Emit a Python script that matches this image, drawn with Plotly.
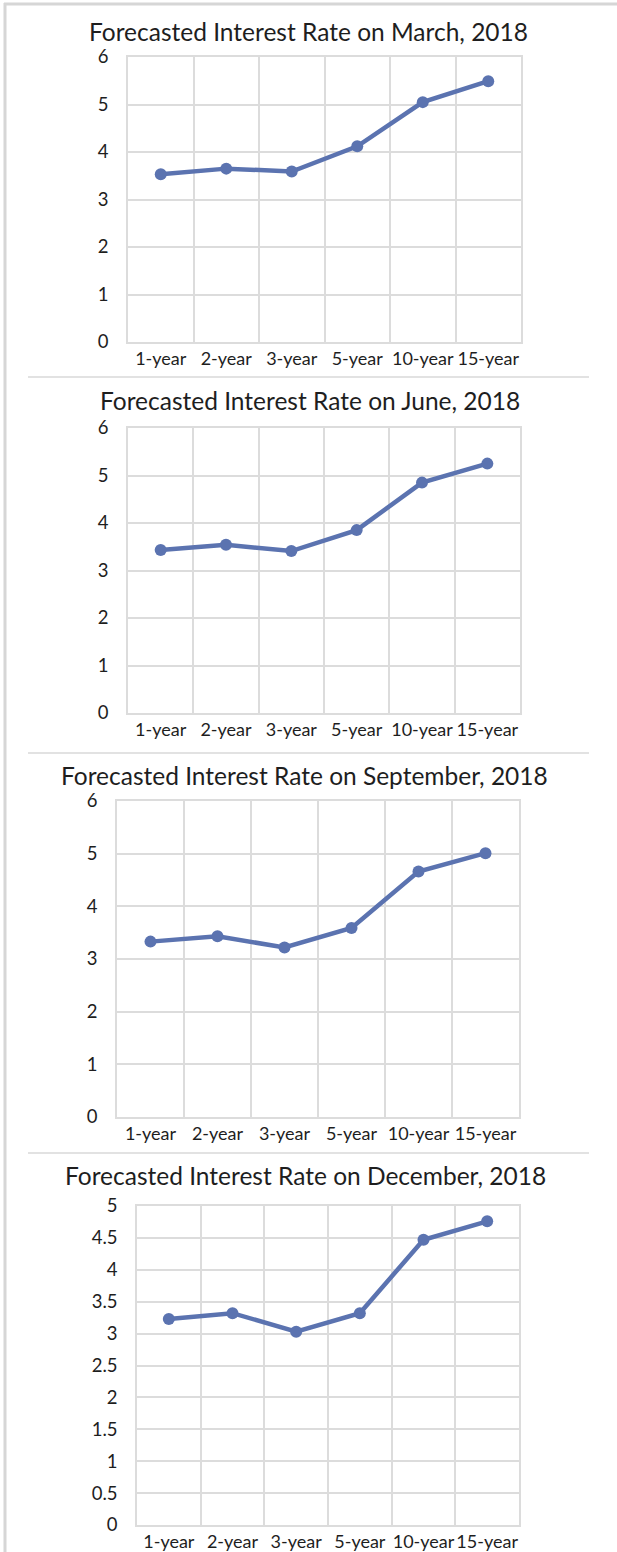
import plotly.graph_objects as go

categories = ["1-year", "2-year", "3-year", "5-year", "10-year", "15-year"]
titles = [
    "Forecasted Interest Rate on March, 2018",
    "Forecasted Interest Rate on June, 2018",
    "Forecasted Interest Rate on September, 2018",
    "Forecasted Interest Rate on December, 2018",
]
march_rates = [3.53, 3.65, 3.59, 4.12, 5.05, 5.49]
june_rates = [3.43, 3.54, 3.41, 3.85, 4.85, 5.25]
september_rates = [3.33, 3.43, 3.22, 3.59, 4.66, 5.01]
december_rates = [3.23, 3.32, 3.03, 3.32, 4.47, 4.76]
series = [march_rates, june_rates, september_rates, december_rates]
y_max = [6, 6, 6, 5]
y_dtick = [1, 1, 1, 0.5]

W, H = 617, 1552
# plot areas in pixels: (left, right, top, bottom)
boxes = [(128, 521, 57, 342), (128, 520, 428, 713), (117, 519, 801, 1117), (137, 519, 1206, 1525)]
title_pos = [(308, 31), (310, 401), (304, 775), (305, 1175)]

LINE = "#5b73b0"
GRID = "#dcdcdc"
TXT = "#1e1e1e"
FONT = "Lato"

fig = go.Figure()
layout = dict(
    width=W, height=H, margin=dict(l=0, r=0, t=0, b=0),
    paper_bgcolor="white", plot_bgcolor="white", showlegend=False,
    font=dict(family=FONT, color=TXT),
)
annotations = []
for i, (vals, (l, r, t, b)) in enumerate(zip(series, boxes)):
    n = "" if i == 0 else str(i + 1)
    fig.add_trace(go.Scatter(
        x=categories, y=vals, mode="lines+markers",
        line=dict(color=LINE, width=4.5), marker=dict(color=LINE, size=12),
        xaxis="x" + n, yaxis="y" + n, cliponaxis=False,
    ))
    layout["xaxis" + n] = dict(
        domain=[l / W, r / W], anchor="y" + n, type="category",
        range=[-0.5, 5.5], tickson="boundaries", showgrid=True, gridcolor=GRID, gridwidth=1.5,
        showline=True, mirror=True, linecolor=GRID, linewidth=1.5, ticks="",
        tickangle=0, automargin=False,
        tickfont=dict(family=FONT, size=18, color=TXT), ticklabelstandoff=0,
        fixedrange=True,
    )
    layout["yaxis" + n] = dict(
        domain=[1 - b / H, 1 - t / H], anchor="x" + n, range=[0, y_max[i]],
        dtick=y_dtick[i], tick0=0, showgrid=True, gridcolor=GRID, gridwidth=1.5,
        zeroline=False, showline=True, mirror=True, linecolor=GRID, linewidth=1.5, ticks="",
        automargin=False,
        tickfont=dict(family=FONT, size=18.5, color=TXT), ticklabelstandoff=14,
        fixedrange=True,
    )
    tx, ty = title_pos[i]
    annotations.append(dict(
        text=titles[i], x=tx / W, y=1 - ty / H, xref="paper", yref="paper",
        xanchor="center", yanchor="middle", showarrow=False,
        font=dict(family=FONT, size=24.5, color=TXT),
    ))

shapes = [
    dict(type="line", xref="paper", yref="paper", x0=5 / W, x1=5 / W, y0=0, y1=1 - 3 / H,
         line=dict(color="#d6d6d6", width=3)),
    dict(type="line", xref="paper", yref="paper", x0=4 / W, x1=1, y0=1 - 4 / H, y1=1 - 4 / H,
         line=dict(color="#d6d6d6", width=3)),
]
for yy in [377, 753, 1153]:
    shapes.append(dict(type="line", xref="paper", yref="paper", x0=28 / W, x1=589 / W,
                       y0=1 - yy / H, y1=1 - yy / H, line=dict(color="#e2e2e2", width=2)))

layout["annotations"] = annotations
layout["shapes"] = shapes
fig.update_layout(**layout)
fig.write_html("out.html", config={"displayModeBar": False},
               post_script="document.body.style.margin='0';")
